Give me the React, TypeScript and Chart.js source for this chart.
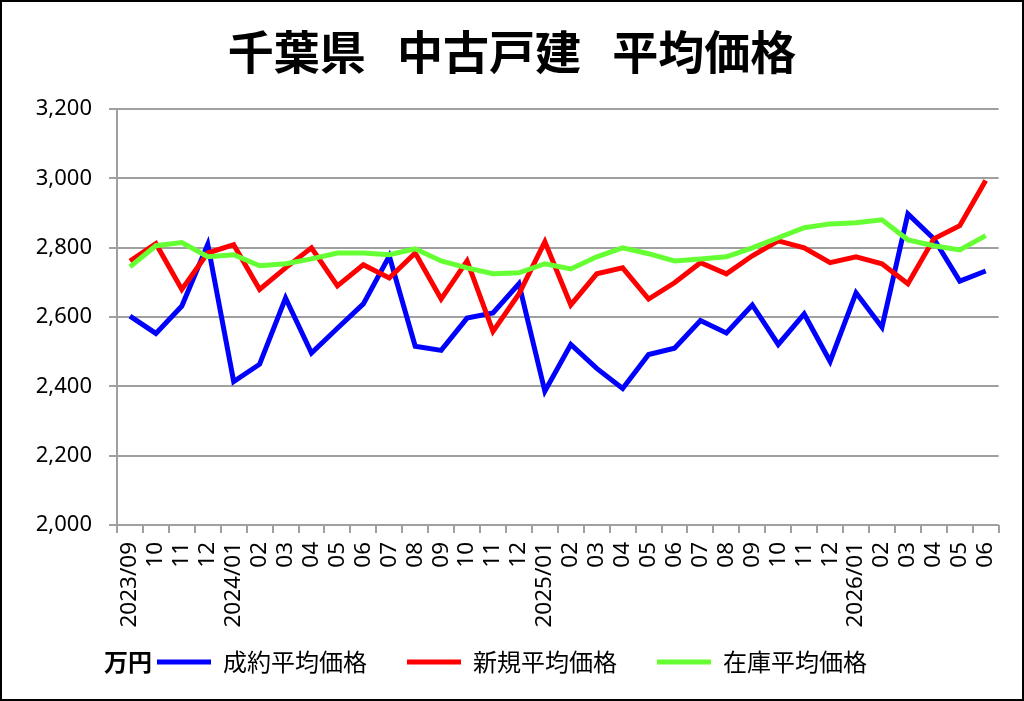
import React, { useEffect, useRef } from "react";
import { Chart, registerables } from "chart.js";

Chart.register(...registerables);

const categories = [
  "2023/09", "10", "11", "12",
  "2024/01", "02", "03", "04", "05", "06", "07", "08", "09", "10", "11", "12",
  "2025/01", "02", "03", "04", "05", "06", "07", "08", "09", "10", "11", "12",
  "2026/01", "02", "03", "04", "05", "06",
];

const contractPrice = [
  2603, 2553, 2632, 2810, 2414, 2464, 2655, 2496, 2568, 2638, 2776, 2516,
  2504, 2597, 2612, 2696, 2386, 2521, 2452, 2394, 2492, 2510, 2590, 2554,
  2635, 2521, 2609, 2472, 2670, 2571, 2898, 2826, 2704, 2733,
];

const newListingPrice = [
  2762, 2812, 2680, 2785, 2809, 2680, 2742, 2800, 2690, 2751, 2713, 2785,
  2652, 2762, 2559, 2667, 2817, 2635, 2725, 2742, 2652, 2699, 2757, 2725,
  2777, 2820, 2800, 2757, 2774, 2754, 2696, 2826, 2864, 2994,
];

const inventoryPrice = [
  2745, 2806, 2815, 2774, 2780, 2748, 2754, 2768, 2785, 2785, 2780, 2797,
  2762, 2742, 2725, 2728, 2754, 2739, 2774, 2800, 2783, 2762, 2768, 2774,
  2800, 2829, 2858, 2869, 2872, 2881, 2823, 2806, 2794, 2835,
];

const seriesLabels = ["成約平均価格", "新規平均価格", "在庫平均価格"];
const unitLabel = "万円";
const titleText = "千葉県   中古戸建   平均価格";

const yMin = 2000;
const yMax = 3200;
const yStep = 200;

const CJK = '"Noto Sans CJK JP", "Noto Sans", sans-serif';
const NUM = '"Noto Sans", "DejaVu Sans", sans-serif';
const GRID = "#a0a0a0";

const unitPlugin = {
  id: "unitLabel",
  beforeDraw(chart: any) {
    // let the rotated x labels extend below the (fixed height) axis box
    const xs = chart.scales && chart.scales.x;
    if (xs) xs._computeLabelArea = () => undefined;
  },
  afterDraw(chart: any) {
    const legend = chart.legend;
    if (!legend || !legend.legendHitBoxes || !legend.legendHitBoxes.length) return;
    const hb = legend.legendHitBoxes[0];
    const ctx = chart.ctx;
    ctx.save();
    ctx.font = `bold 24px ${CJK}`;
    ctx.fillStyle = "#000";
    ctx.textAlign = "right";
    ctx.textBaseline = "middle";
    ctx.fillText(unitLabel, hb.left - 5, hb.top + hb.height / 2);
    ctx.restore();
  },
};

export default function App() {
  const canvasRef = useRef<HTMLCanvasElement | null>(null);

  useEffect(() => {
    document.body.style.margin = "0";
    const canvas = canvasRef.current;
    if (!canvas) return;
    const chart = new Chart(canvas, {
      type: "line",
      data: {
        labels: categories,
        datasets: [
          {
            label: seriesLabels[0],
            data: contractPrice,
            borderColor: "#0000ff",
            backgroundColor: "#0000ff",
            borderWidth: 5,
            pointRadius: 0,
            tension: 0,
            order: 2,
          },
          {
            label: seriesLabels[1],
            data: newListingPrice,
            borderColor: "#ff0000",
            backgroundColor: "#ff0000",
            borderWidth: 5,
            pointRadius: 0,
            tension: 0,
            order: 1,
          },
          {
            label: seriesLabels[2],
            data: inventoryPrice,
            borderColor: "#66ff33",
            backgroundColor: "#66ff33",
            borderWidth: 5,
            pointRadius: 0,
            tension: 0,
            order: 0,
          },
        ],
      },
      options: {
        responsive: false,
        animation: false,
        devicePixelRatio: 1,
        layout: { padding: { left: 21, right: 21, top: 0, bottom: 15 } },
        plugins: {
          title: {
            display: true,
            text: titleText,
            color: "#000",
            font: { family: CJK, size: 46, weight: "bold" },
            padding: { top: 22, bottom: 30 },
          },
          legend: {
            display: true,
            position: "bottom",
            labels: {
              color: "#000",
              font: { family: CJK, size: 24 },
              boxWidth: 54,
              boxHeight: 5,
              padding: 40,
              sort: (a: any, b: any) => a.datasetIndex - b.datasetIndex,
              generateLabels: (c: any) =>
                (Chart.defaults as any).plugins.legend.labels
                  .generateLabels(c)
                  .map((l: any) => ({ ...l, lineWidth: 0 })),
            },
          },
          tooltip: { enabled: false },
        },
        scales: {
          x: {
            type: "category",
            offset: true,
            grid: {
              offset: true,
              drawOnChartArea: false,
              drawTicks: true,
              tickLength: 8,
              color: GRID,
              lineWidth: 2,
            },
            border: { display: false },
            ticks: {
              autoSkip: false,
              maxRotation: 90,
              minRotation: 90,
              padding: 9,
              color: "#000",
              font: { family: NUM, size: 22.5 },
            },
            afterFit: (scale: any) => {
              scale.height = 85;
            },
          },
          y: {
            min: yMin,
            max: yMax,
            ticks: {
              stepSize: yStep,
              padding: 17,
              color: "#000",
              font: { family: NUM, size: 22 },
              callback: (v: any) => Number(v).toLocaleString("en-US"),
            },
            grid: {
              color: GRID,
              lineWidth: 2,
              tickLength: 8,
              drawTicks: true,
            },
            border: { display: true, color: GRID, width: 2 },
            afterFit: (scale: any) => {
              scale.width = 94;
            },
          },
        },
      },
      plugins: [unitPlugin],
    } as any);
    return () => chart.destroy();
  }, []);

  return (
    <div
      style={{
        width: 1024,
        height: 701,
        border: "2px solid #000",
        boxSizing: "border-box",
        background: "#fff",
        overflow: "hidden",
      }}
    >
      <canvas ref={canvasRef} width={1020} height={697} style={{ display: "block" }} />
    </div>
  );
}
